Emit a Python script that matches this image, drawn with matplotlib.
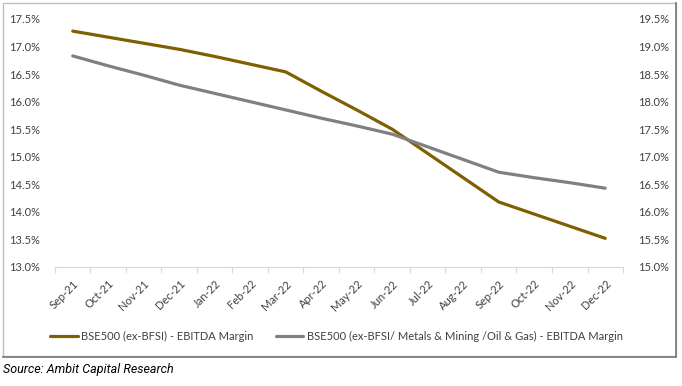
import matplotlib.pyplot as plt
from matplotlib.patches import Rectangle
from matplotlib.ticker import FuncFormatter

plt.rcParams['font.family'] = ['Lato', 'DejaVu Sans']

months = ['Sep-21', 'Oct-21', 'Nov-21', 'Dec-21', 'Jan-22', 'Feb-22', 'Mar-22', 'Apr-22',
          'May-22', 'Jun-22', 'Jul-22', 'Aug-22', 'Sep-22', 'Oct-22', 'Nov-22', 'Dec-22']

# BSE500 (ex-BFSI), left axis
ebitda_ex_bfsi = [17.28, 17.17, 17.06, 16.95, 16.82, 16.68, 16.54, 16.19,
                  15.85, 15.50, 15.06, 14.62, 14.18, 13.96, 13.74, 13.52]
# BSE500 (ex-BFSI / Metals & Mining / Oil & Gas), right axis
ebitda_ex_commod = [18.83, 18.65, 18.48, 18.30, 18.15, 18.00, 17.85, 17.70,
                    17.56, 17.41, 17.18, 16.95, 16.72, 16.62, 16.53, 16.43]

label_1 = 'BSE500 (ex-BFSI) - EBITDA Margin'
label_2 = 'BSE500 (ex-BFSI/ Metals & Mining /Oil & Gas) - EBITDA Margin'

gold = '#7F6000'
grey = '#808080'
txt = '#404040'

fig = plt.figure(figsize=(6.82, 3.86), dpi=100)
ax = fig.add_axes([0.0806, 0.3083, 0.8329, 0.6425])
ax2 = ax.twinx()

x = list(range(len(months)))
l1, = ax.plot(x, ebitda_ex_bfsi, color=gold, lw=2.3, solid_capstyle='round', label=label_1)
l2, = ax2.plot(x, ebitda_ex_commod, color=grey, lw=2.3, solid_capstyle='round', label=label_2)

pct = FuncFormatter(lambda v, p: f'{v:.1f}%')
ax.set_ylim(13.0, 17.5)
ax2.set_ylim(15.0, 19.5)
ax.set_yticks([13.0 + 0.5 * i for i in range(10)])
ax2.set_yticks([15.0 + 0.5 * i for i in range(10)])
for a in (ax, ax2):
    a.yaxis.set_major_formatter(pct)
    a.tick_params(axis='y', length=0, labelsize=8, labelcolor=txt, pad=11)
    for s in a.spines.values():
        s.set_visible(False)
ax.spines['bottom'].set_visible(True)
ax.spines['bottom'].set_color('#D9D9D9')

# ticks on category boundaries, labels at centres
ax.set_xlim(-0.5, len(months) - 0.5)
ax.set_xticks([i - 0.5 for i in range(len(months) + 1)])
ax.set_xticklabels([])
ax.tick_params(axis='x', which='major', length=4, color='#D9D9D9')
ax.set_xticks(x, minor=True)
ax.set_xticklabels(months, minor=True, rotation=45, ha='right', rotation_mode='anchor')
ax.tick_params(axis='x', which='minor', length=0, labelsize=8, labelcolor=txt, pad=8)

fig.legend(handles=[l1, l2], loc='center', bbox_to_anchor=(0.493, 1 - 336 / 386), ncol=2,
           frameon=False, fontsize=8, labelcolor=txt, handlelength=2.5, handletextpad=0.3,
           columnspacing=2.0)

# chart frame
fig.add_artist(Rectangle((3 / 682, 1 - 356 / 386), 673 / 682, 353 / 386, transform=fig.transFigure,
                         fill=False, edgecolor='#BFBFBF', lw=1))
fig.add_artist(plt.Line2D([676 / 682, 676 / 682], [1 - 357 / 386, 1 - 3 / 386],
                          transform=fig.transFigure, color='#7F7F7F', lw=1.3))
fig.add_artist(plt.Line2D([3 / 682, 676 / 682], [1 - 357 / 386, 1 - 357 / 386],
                          transform=fig.transFigure, color='#7F7F7F', lw=1.3))

fig.text(3 / 682, 1 - 370 / 386, 'Source: Ambit Capital Research', family=['Roboto', 'DejaVu Sans'],
         style='italic', fontsize=9, color='#000000', va='center', ha='left')

fig.savefig('out.png', dpi=100)
